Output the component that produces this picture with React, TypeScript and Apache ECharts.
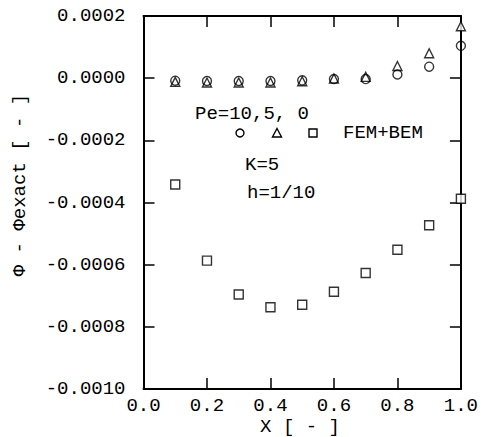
import React, { useEffect, useRef } from "react";
import * as echarts from "echarts";

const xValues = [0.1, 0.2, 0.3, 0.4, 0.5, 0.6, 0.7, 0.8, 0.9, 1.0];
const pe10Circle = [-0.000008, -0.000009, -0.000009, -0.000009, -0.000007, -0.000003, -0.000003, 0.000012, 0.000037, 0.000104];
const pe5Triangle = [-0.000012, -0.000014, -0.000014, -0.000014, -0.00001, -0.000001, 0.000004, 0.000039, 0.00008, 0.000167];
const pe0Square = [-0.000342, -0.000587, -0.000696, -0.000737, -0.000729, -0.000687, -0.000627, -0.000552, -0.000473, -0.000388];

const xTicks = [0.0, 0.2, 0.4, 0.6, 0.8, 1.0];
const yTicks = [-0.001, -0.0008, -0.0006, -0.0004, -0.0002, 0.0, 0.0002];

const FONT = "'Liberation Mono', 'DejaVu Sans Mono', monospace";
const FS = 19;

function pairs(ys: number[]) {
  return xValues.map((x, i) => [x, ys[i]]);
}

export default function App() {
  const ref = useRef<HTMLDivElement>(null);
  useEffect(() => {
    if (!ref.current) return;
    const chart = echarts.init(ref.current, null, { renderer: "svg" });
    const axisLine = { show: true, onZero: false, lineStyle: { color: "#000", width: 2 } };
    const axisTickIn = { show: true, inside: true, length: 11, lineStyle: { color: "#000", width: 1.5 } };
    const yFmt = (v: number) => (Math.abs(v) < 1e-12 ? "0.0000" : v.toFixed(4));
    const markerStyle = { color: "#fff", borderColor: "#000", borderWidth: 1.4 };
    chart.setOption({
      animation: false,
      backgroundColor: "#fff",
      grid: { left: 143.5, right: 20, top: 16, bottom: 48, containLabel: false },
      xAxis: [
        {
          type: "value",
          min: xTicks[0],
          max: xTicks[xTicks.length - 1],
          interval: 0.2,
          position: "bottom",
          axisLine,
          axisTick: axisTickIn,
          splitLine: { show: false },
          axisLabel: { color: "#000", fontFamily: FONT, fontSize: FS, margin: 7, formatter: (v: number) => v.toFixed(1) },
        },
        {
          type: "value",
          min: xTicks[0],
          max: xTicks[xTicks.length - 1],
          interval: 0.2,
          position: "top",
          axisLine,
          axisTick: axisTickIn,
          splitLine: { show: false },
          axisLabel: { show: false },
        },
      ],
      yAxis: [
        {
          type: "value",
          min: yTicks[0],
          max: yTicks[yTicks.length - 1],
          interval: 0.0002,
          position: "left",
          axisLine,
          axisTick: axisTickIn,
          splitLine: { show: false },
          axisLabel: { color: "#000", fontFamily: FONT, fontSize: FS, margin: 18, formatter: yFmt },
        },
        {
          type: "value",
          min: yTicks[0],
          max: yTicks[yTicks.length - 1],
          interval: 0.0002,
          position: "right",
          axisLine,
          axisTick: axisTickIn,
          splitLine: { show: false },
          axisLabel: { show: false },
        },
      ],
      series: [
        {
          name: "Pe=0",
          type: "scatter",
          data: pairs(pe0Square),
          symbol: "rect",
          symbolSize: 9,
          itemStyle: markerStyle,
          clip: false,
        },
        {
          name: "Pe=5",
          type: "scatter",
          data: pairs(pe5Triangle),
          symbol: "triangle",
          symbolSize: 9,
          itemStyle: markerStyle,
          clip: false,
        },
        {
          name: "Pe=10",
          type: "scatter",
          data: pairs(pe10Circle),
          symbol: "circle",
          symbolSize: 9,
          itemStyle: { color: "rgba(255,255,255,0)", borderColor: "#000", borderWidth: 1.4 },
          clip: false,
        },
      ],
      graphic: [
        {
          type: "text",
          x: 20,
          y: 185,
          rotation: Math.PI / 2,
          style: {
            text: "Φ - Φexact [ - ]",
            font: `${FS}px ${FONT}`,
            fill: "#000",
            textAlign: "center",
            textVerticalAlign: "middle",
          },
        },
        {
          type: "text",
          x: 300,
          y: 427,
          style: { text: "X [ - ]", font: `${FS}px ${FONT}`, fill: "#000", textAlign: "center", textVerticalAlign: "middle" },
        },
        {
          type: "text",
          x: 195,
          y: 114,
          style: { text: "Pe=10,5, 0", font: `${FS}px ${FONT}`, fill: "#000", textAlign: "left", textVerticalAlign: "middle" },
        },
        {
          type: "circle",
          shape: { cx: 240, cy: 133, r: 4 },
          style: { fill: "#fff", stroke: "#000", lineWidth: 1.4 },
        },
        {
          type: "polygon",
          shape: { points: [[277, 128.5], [281.5, 137], [272.5, 137]] },
          style: { fill: "#fff", stroke: "#000", lineWidth: 1.4 },
        },
        {
          type: "rect",
          shape: { x: 309, y: 129, width: 8, height: 8 },
          style: { fill: "#fff", stroke: "#000", lineWidth: 1.4 },
        },
        {
          type: "text",
          x: 343,
          y: 133,
          style: { text: "FEM+BEM", font: `${FS}px ${FONT}`, fill: "#000", textAlign: "left", textVerticalAlign: "middle" },
        },
        {
          type: "text",
          x: 245,
          y: 165,
          style: { text: "K=5", font: `${FS}px ${FONT}`, fill: "#000", textAlign: "left", textVerticalAlign: "middle" },
        },
        {
          type: "text",
          x: 247,
          y: 193,
          style: { text: "h=1/10", font: `${FS}px ${FONT}`, fill: "#000", textAlign: "left", textVerticalAlign: "middle" },
        },
      ],
    });
    return () => chart.dispose();
  }, []);
  return (
    <div
      ref={ref}
      style={{ position: "fixed", left: 0, top: 0, width: 481, height: 437, background: "#fff" }}
    />
  );
}
